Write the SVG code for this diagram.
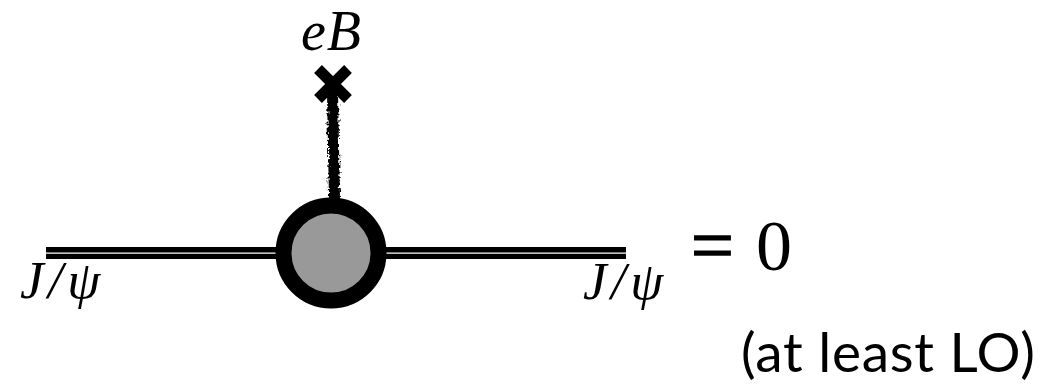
<svg xmlns="http://www.w3.org/2000/svg" width="1047" height="384" viewBox="0 0 1047 384">
<style>
.m{font-family:"Liberation Serif",serif;font-style:italic;fill:#000}
.j{font-size:53px;letter-spacing:4.500px}
.dbl{fill:#000}
</style>
<defs><filter id="rough" filterUnits="userSpaceOnUse" x="310" y="85" width="45" height="120"><feTurbulence type="fractalNoise" baseFrequency="0.35" numOctaves="2" seed="4"/><feDisplacementMap in="SourceGraphic" scale="7" xChannelSelector="R" yChannelSelector="G"/></filter></defs>
<rect width="1047" height="384" fill="#fff"/>
<g id="connectors">
<path class="dbl" d="M46 247H280V252.500H46ZM46 253.700H280V259H46ZM380 247H626V252.500H380ZM380 253.700H626V259H380Z"/>
<path d="M327 92H338L340 200H329Z" fill="#000" filter="url(#rough)"/>
</g>
<g id="vertex"><circle cx="331" cy="253" r="47.500" fill="#999" stroke="#000" stroke-width="16"/></g>
<g id="field-cross"><path d="M318 69L348 99M348 69L318 99" stroke="#000" stroke-width="11" fill="none"/></g>
<g id="label-eB"><text class="m" x="301" y="50" font-size="56" letter-spacing="1">eB</text></g>
<g id="label-left"><text class="m j" x="20" y="298">J/ψ</text></g>
<g id="label-right"><text class="m j" x="583" y="299">J/ψ</text></g>
<g id="result"><text font-family="Liberation Serif,serif" font-size="72" fill="#000"><tspan x="691" y="271" font-size="76" stroke="#000" stroke-width="1.500">=</tspan><tspan x="756" y="270">0</tspan></text></g>
<g id="note"><text x="741" y="372" font-family="Lato,Open Sans,sans-serif" font-size="55" letter-spacing="0.700" fill="#000">(at least LO)</text></g>
</svg>
